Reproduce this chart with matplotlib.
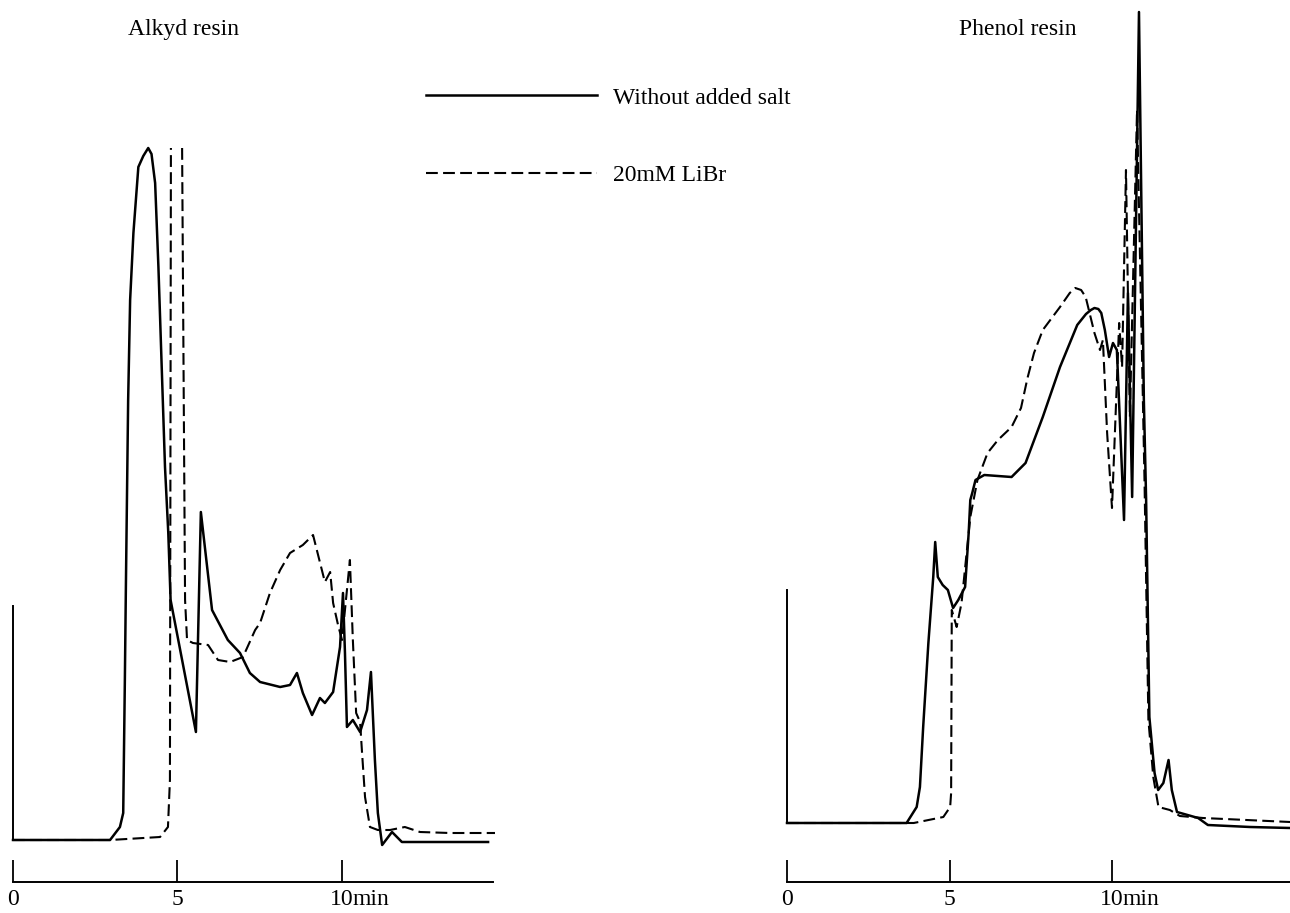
import numpy as np
import matplotlib
matplotlib.use("Agg")
import matplotlib.pyplot as plt

plt.rcParams['font.family'] = ['Liberation Serif', 'DejaVu Serif']
plt.rcParams['lines.scale_dashes'] = False

# ---------------- data (time in min, detector signal in arbitrary units) ----------------
alkyd_solid_t = [0, 2.95, 3.25, 3.35, 3.40, 3.43, 3.50, 3.56, 3.66, 3.81, 3.96, 4.11, 4.21, 4.32,
                 4.42, 4.52, 4.62, 4.72, 4.79, 5.56, 5.71, 6.05, 6.53, 6.90, 7.20, 7.51, 8.12,
                 8.42, 8.63, 8.81, 9.09, 9.33, 9.48, 9.73, 9.94, 10.03, 10.09, 10.15, 10.33,
                 10.55, 10.76, 10.88, 11.00, 11.09, 11.22, 11.52, 11.82, 14.44]
alkyd_solid_s = [0, 0, 13, 27, 160, 250, 440, 540, 607, 673, 684, 692, 686, 657,
                 573, 473, 373, 307, 240, 108, 328, 230, 200, 187, 167, 158, 153,
                 155, 167, 147, 125, 142, 137, 148, 193, 247, 187, 113, 120,
                 108, 130, 168, 80, 27, -5, 8, -2, -2]

alkyd_salt_t = [0, 2.95, 4.47, 4.71, 4.77, 4.80, 4.97, 5.14, 5.23, 5.29, 5.47, 5.93, 6.23, 6.60,
                6.99, 7.36, 7.51, 7.81, 8.12, 8.42, 8.81, 9.12, 9.48, 9.64, 9.73, 9.88, 10.00,
                10.15, 10.24, 10.33, 10.43, 10.55, 10.61, 10.70, 10.85, 11.09, 11.46, 11.91,
                12.37, 13.28, 14.65]
alkyd_salt_s = [0, 0, 3, 13, 60, 692, np.nan, 692, 240, 200, 197, 195, 180, 178,
                183, 210, 217, 247, 270, 287, 295, 305, 258, 268, 237, 215, 200,
                250, 280, 200, 127, 118, 87, 43, 13, 10, 10, 13,
                8, 7, 7]

phenol_solid_t = [0, 3.68, 3.99, 4.09, 4.19, 4.35, 4.50, 4.56, 4.64, 4.79, 4.95, 5.11, 5.27, 5.48,
                  5.59, 5.64, 5.70, 5.80, 6.07, 6.91, 7.34, 7.87, 8.40, 8.93, 9.20, 9.35, 9.46,
                  9.58, 9.67, 9.78, 9.91, 10.03, 10.15, 10.37, 10.49, 10.62, 10.83, 10.98, 11.05,
                  11.15, 11.31, 11.42, 11.58, 11.74, 11.84, 12.00, 12.65, 12.95, 14.25, 15.48]
phenol_solid_s = [0, 0, 16, 36, 96, 180, 246, 281, 246, 238, 233, 215, 223, 236,
                  290, 323, 330, 343, 348, 346, 360, 406, 456, 498, 509, 513, 515,
                  514, 510, 493, 466, 480, 473, 303, 530, 326, 811, 423, 323,
                  106, 50, 33, 40, 63, 33, 11, 5, -2, -4, -5]

phenol_salt_t = [0, 3.90, 4.81, 5.02, 5.05, 5.07, 5.22, 5.37, 5.64, 5.86, 6.17, 6.49, 6.91, 7.20,
                 7.40, 7.60, 7.87, 8.40, 8.70, 8.87, 9.05, 9.19, 9.46, 9.63, 9.72, 9.85, 10.00,
                 10.22, 10.31, 10.43, 10.55, 10.77, 11.00, 11.12, 11.27, 11.43, 11.78, 12.09,
                 12.80, 15.48]
phenol_salt_s = [0, 0, 6, 16, 30, 213, 196, 220, 306, 343, 370, 383, 396, 415,
                 445, 470, 493, 516, 530, 535, 533, 526, 490, 473, 483, 390, 315,
                 500, 456, 653, 406, 713, 343, 103, 46, 16, 13, 7,
                 5, 1]

tick_values = [0, 5, 10]
tick_labels = ['0', '5', '10']
titles = ['Alkyd resin', 'Phenol resin']
series_labels = ['Without added salt', '20mM LiBr']

# ---------------- figure ----------------
W, H = 1290, 913
fig = plt.figure(figsize=(W / 100, H / 100), dpi=100)

def px_axes(x0, x1, y_top, y_bot):
    return fig.add_axes([x0 / W, (H - y_bot) / H, (x1 - x0) / W, (y_bot - y_top) / H])

FS = 17
LW_S = 1.8
LW_D = 1.5
DASH = (8.5, 3.8)

def style_axes(ax, xlim, ylim, spine_end, vbar):
    ax.set_xlim(*xlim)
    ax.set_ylim(*ylim)
    for s in ['top', 'right']:
        ax.spines[s].set_visible(False)
    ax.spines['left'].set_position(('data', 0))
    ax.spines['left'].set_bounds(0, vbar)
    ax.spines['left'].set_linewidth(1.4)
    ax.spines['bottom'].set_bounds(0, spine_end)
    ax.spines['bottom'].set_linewidth(1.4)
    ax.set_yticks([])
    ax.set_xticks(tick_values)
    ax.set_xticklabels(tick_labels)
    ax.tick_params(axis='x', direction='in', length=15.8, width=1.3, pad=5,
                   labelsize=FS)
    ax.annotate('min', xy=(10, 0), xycoords=('data', 'axes fraction'),
                xytext=(7.5, -5), textcoords='offset points', ha='left', va='top',
                fontsize=FS)
    ax.patch.set_visible(False)

# left panel: x px 0..520, 0 min at px 13, 32.9 px/min; baseline px 840, axis px 882
axL = px_axes(0, 520, 0, 882)
lineS, = axL.plot(alkyd_solid_t, alkyd_solid_s, color='black', lw=LW_S,
                  solid_joinstyle='round')
lineD, = axL.plot(alkyd_salt_t, alkyd_salt_s, color='black', lw=LW_D, linestyle=(0, DASH))
style_axes(axL, ((0 - 13) / 32.9, (520 - 13) / 32.9), (-42, 840), (493 - 13) / 32.9, 234)

# right panel: x px 760..1290, 0 min at px 787, 32.5 px/min; baseline px 823, axis px 882
axR = px_axes(760, 1290, 0, 882)
axR.plot(phenol_solid_t, phenol_solid_s, color='black', lw=LW_S, solid_joinstyle='round')
axR.plot(phenol_salt_t, phenol_salt_s, color='black', lw=LW_D, linestyle=(0, DASH))
style_axes(axR, ((760 - 787) / 32.5, (1290 - 787) / 32.5), (-59, 823), (1290 - 787) / 32.5, 233)

# titles
fig.text(128 / W, 1 - 35 / H, titles[0], fontsize=FS, ha='left', va='baseline')
fig.text(959 / W, 1 - 35 / H, titles[1], fontsize=FS, ha='left', va='baseline')

# legend
fig.legend([lineS, lineD], series_labels, loc='upper left',
           bbox_to_anchor=(426 / W, 1 - 87 / H), frameon=False, fontsize=FS,
           handlelength=7.25, handletextpad=0.68, labelspacing=2.36,
           borderpad=0, borderaxespad=0)

fig.savefig('out.png', dpi=100)
